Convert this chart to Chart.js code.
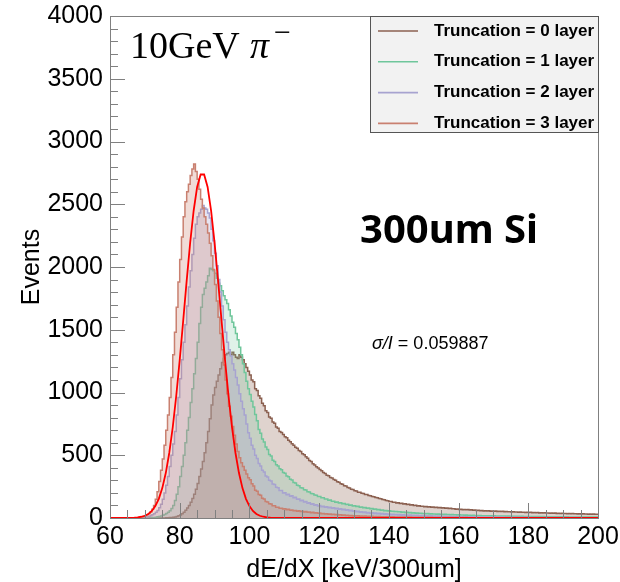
<!DOCTYPE html>
<html>
<head>
<meta charset="utf-8">
<script src="https://cdn.jsdelivr.net/npm/chart.js@4.4.1/dist/chart.umd.min.js"></script>
<style>
  html, body { margin: 0; padding: 0; background: #fff; }
  canvas { display: block; }
</style>
</head>
<body>
<canvas id="chart" width="620" height="582"></canvas>
<script>
// bin lower edges, 0.5 keV wide, 60..199.5
const binLow = [];
for (let i = 0; i < 280; i++) binLow.push(60 + i * 0.5);

// Truncation = 0 layer (one row = 10 keV)
const trunc0 = [
  0,0,0,0,0,0,0,0,0,0,0,0,0,0,0,0,0,0,0,0,
  0,0,0,0,0,0,0,0,0,0,0,0,0,1,2,3,4,6,8,12,
  17,24,34,46,62,80,100,125,155,190,230,275,330,390,450,520,600,690,790,900,
  980,1040,1090,1140,1190,1240,1270,1300,1310,1320,1300,1320,1300,1280,1270,1300,1280,1260,1230,1200,
  1170,1140,1100,1085,1030,1015,975,955,915,895,855,840,805,795,765,755,725,715,690,682,
  665,648,640,620,608,592,580,564,555,538,530,512,504,488,476,458,450,432,423,408,
  398,386,376,362,354,341,336,323,318,306,300,288,284,272,268,256,254,243,240,230,
  228,218,216,206,205,197,196,188,187,179,178,171,170,163,162,155,154,147,146,139,
  138,132,132,126,126,120,121,116,117,112,113,108,109,104,105,100,101,96,98,93,
  94,90,91,87,89,85,87,83,85,81,83,79,81,77,79,75,77,73,74,70,
  72,68,70,66,68,65,67,63,65,61,63,60,62,58,60,56,58,55,57,54,
  56,53,55,52,54,51,53,50,51,49,50,48,49,47,48,46,47,45,46,44,
  45,43,45,42,44,41,43,40,42,39,41,39,40,38,39,37,39,36,38,36,
  37,35,36,34,36,33,35,33,34,32,34,31,33,31,32,30,32,30,31,30
];

// Truncation = 1 layer
const trunc1 = [
  0,0,0,0,0,0,0,0,0,0,0,0,0,0,0,0,0,0,0,0,
  0,0,0,1,2,3,4,6,9,12,16,21,27,35,45,58,75,100,140,190,
  250,330,410,500,600,700,800,920,1030,1150,1270,1400,1550,1680,1780,1830,1880,1930,1990,1980,
  1970,1950,1910,1870,1850,1810,1770,1740,1710,1660,1610,1560,1520,1470,1420,1360,1300,1230,1160,1090,
  1030,985,930,885,825,775,705,675,630,605,565,545,505,495,460,450,425,414,392,384,
  362,356,334,328,308,302,282,278,260,256,242,239,225,223,209,207,195,194,183,182,
  172,172,162,162,152,152,142,143,133,134,125,127,119,121,113,115,107,109,101,103,
  96,98,91,93,86,88,82,84,78,80,74,76,70,72,66,68,62,64,58,60,
  56,57,53,54,51,52,49,50,46,47,44,45,42,43,40,41,38,39,37,38,
  35,36,34,35,32,33,31,32,30,31,29,30,28,29,27,28,26,27,25,26,
  24,25,23,24,22,23,21,22,20,21,19,20,19,19,18,18,17,18,17,17,
  16,17,16,16,15,16,15,15,14,15,14,14,13,14,13,13,12,13,12,12,
  12,12,11,12,11,11,11,11,10,11,10,10,10,10,9,10,9,9,9,9,
  9,9,8,9,8,8,8,8,8,8,7,8,7,7,7,7,7,7,7,7
];

// Truncation = 2 layer
const trunc2 = [
  0,0,0,0,0,0,0,0,0,0,0,0,0,0,0,0,0,0,1,2,
  3,5,8,12,18,25,33,45,60,82,110,150,200,260,330,410,500,590,690,820,
  960,1110,1260,1400,1540,1690,1840,1970,2100,2230,2340,2400,2430,2460,2490,2470,2460,2430,2390,2300,
  2210,2110,2010,1900,1800,1690,1580,1480,1400,1340,1290,1230,1180,1120,1060,990,930,870,820,750,
  680,635,580,550,500,475,435,415,380,367,335,327,300,295,270,267,245,242,220,220,
  200,202,185,189,173,177,161,165,150,152,137,141,127,131,117,122,109,114,102,106,
  95,99,89,94,85,90,81,86,77,82,73,78,69,74,65,70,61,66,57,62,
  53,58,49,54,46,50,43,47,40,44,38,42,36,40,34,38,32,36,30,34,
  28,32,26,30,25,28,23,27,22,26,20,24,19,23,18,22,17,21,16,20,
  15,19,14,18,13,17,13,16,12,15,11,14,11,13,10,13,10,12,9,12,
  9,11,8,11,8,10,8,10,7,9,7,9,7,8,6,8,6,8,6,7,
  6,7,5,7,5,7,5,6,5,6,5,6,4,6,4,5,4,5,4,5,
  4,5,4,4,4,4,3,4,3,4,3,4,3,4,3,3,3,3,3,3,
  3,3,3,3,2,3,2,3,2,3,2,2,2,2,2,2,2,2,2,2
];

// Truncation = 3 layer
const trunc3 = [
  0,0,0,0,0,0,0,0,0,0,0,0,0,0,0,0,2,3,5,8,
  12,18,25,34,48,70,100,150,210,290,380,470,580,700,820,960,1120,1300,1480,1680,
  1880,2060,2240,2400,2520,2600,2660,2730,2780,2820,2760,2700,2620,2540,2470,2400,2340,2270,2190,2090,
  1980,1860,1730,1600,1470,1340,1220,1100,990,890,810,730,660,590,530,480,440,410,380,350,
  320,305,272,255,222,214,188,182,157,152,132,128,113,111,98,97,86,86,78,78,
  72,73,66,69,61,64,57,60,54,57,51,53,48,51,45,47,42,45,40,42,
  37,39,34,36,31,34,29,32,27,30,25,27,23,25,21,23,19,21,18,19,
  16,18,15,17,14,16,13,15,12,14,11,13,10,12,10,11,9,10,8,10,
  8,9,7,9,7,8,6,8,6,7,6,7,5,7,5,6,5,6,4,6,
  4,5,4,5,4,5,4,4,3,4,3,4,3,4,3,4,3,3,2,3,
  2,3,2,3,2,3,2,2,2,2,2,2,2,2,2,2,2,2,2,2,
  2,2,2,2,1,2,1,2,1,1,1,1,1,1,1,1,1,1,1,1,
  1,1,1,1,1,1,1,1,1,1,1,1,1,1,1,1,1,1,1,1,
  1,1,1,1,1,1,1,1,1,1,1,1,1,1,1,1,1,1,1,1
];

// gaussian fit curve, sampled at 60..200
const fitX = [];
for (let x = 60; x <= 200; x++) fitX.push(x);
const fitY = [
  0,0,0,0,0,0,
  1,2,5,10,18,32,56,95,153,238,358,518,723,972,1259,1572,1892,2193,2450,2638,2737,
  2737,2638,2450,2193,1892,1572,1259,972,723,518,358,238,153,95,56,32,18,10,5,2,1,
  0,0,0,0,0,0,0,0,0,0,0,0,0,0,0,0,0,0,0,0,0,0,0,0,0,0,0,0,0,0,0,0,0,0,0,0,0,0,0,0,
  0,0,0,0,0,0,0,0,0,0,0,0,0,0,0,0,0,0,0,0,0,0,0,0,0,0,0,0,0,0,0,0,0,0,0,0,0,0,0,0,
  0,0,0,0,0,0,0,0,0,0,0,0,0
];

const legendLabels = ['Truncation = 0 layer', 'Truncation = 1 layer', 'Truncation = 2 layer', 'Truncation = 3 layer'];
const lineColors = ['#8b6050', '#6fc69b', '#a7a3d0', '#c98070'];
const fillColors = ['rgba(139,96,80,0.28)', 'rgba(111,198,155,0.22)', 'rgba(167,163,208,0.28)', 'rgba(201,128,112,0.28)'];

const histPoints = (vals) => {
  const pts = binLow.map((x, i) => ({ x: x, y: vals[i] }));
  pts.push({ x: 200, y: vals[vals.length - 1] });
  return pts;
};

const hists = [trunc0, trunc1, trunc2, trunc3];

// ticks inside the frame, ROOT style
const frameTicks = {
  id: 'frameTicks',
  afterDatasetsDraw(chart) {
    const { ctx, chartArea: a, scales } = chart;
    ctx.save();
    ctx.strokeStyle = '#808080';
    ctx.lineWidth = 1;
    for (let v = 0; v <= 4000; v += 100) {
      const y = Math.round(scales.y.getPixelForValue(v)) + 0.5;
      const len = (v % 500 === 0) ? 15 : 8;
      ctx.beginPath();
      ctx.moveTo(a.left, y);
      ctx.lineTo(a.left + len, y);
      ctx.stroke();
    }
    for (let v = 60; v <= 200; v += 5) {
      const x = Math.round(scales.x.getPixelForValue(v)) + 0.5;
      const len = (v % 20 === 0) ? 15 : 8;
      ctx.beginPath();
      ctx.moveTo(x, a.bottom);
      ctx.lineTo(x, a.bottom - len);
      ctx.stroke();
    }
    ctx.strokeRect(a.left + 0.5, a.top + 0.5, a.right - a.left, a.bottom - a.top);
    ctx.restore();
  },
  afterDraw(chart) {
    const { ctx, chartArea: a } = chart;
    ctx.save();

    // legend box
    const bx = 370, by = a.top, bw = a.right - 370, bh = 116;
    ctx.fillStyle = '#f2f2f2';
    ctx.fillRect(bx, by, bw, bh);
    ctx.strokeStyle = '#555';
    ctx.lineWidth = 1;
    ctx.strokeRect(bx + 0.5, by + 0.5, bw, bh);
    ctx.font = 'bold 17px "Liberation Sans", Arial, sans-serif';
    ctx.textBaseline = 'middle';
    ctx.textAlign = 'left';
    legendLabels.forEach((lab, i) => {
      const y = 31 + i * 30.8;
      ctx.strokeStyle = lineColors[i];
      ctx.lineWidth = 1.6;
      ctx.beginPath();
      ctx.moveTo(378, y);
      ctx.lineTo(418, y);
      ctx.stroke();
      ctx.fillStyle = '#000';
      ctx.fillText(lab, 434, y);
    });

    // beam label
    ctx.fillStyle = '#000';
    ctx.textBaseline = 'alphabetic';
    ctx.font = '38px "Liberation Serif", "DejaVu Serif", serif';
    ctx.fillText('10GeV', 130, 58);
    ctx.font = 'italic 38px "Liberation Serif", "DejaVu Serif", serif';
    ctx.fillText('\u03c0', 250, 58);
    ctx.font = '30px "Liberation Serif", "DejaVu Serif", serif';
    ctx.fillText('\u2212', 274, 42);

    // detector label
    ctx.font = 'bold 40px "Noto Sans", "Open Sans", sans-serif';
    ctx.fillText('300um Si', 360, 243);

    // resolution
    ctx.font = 'italic 18px "Liberation Sans", Arial, sans-serif';
    ctx.fillText('\u03c3/I', 372, 349);
    const w = ctx.measureText('\u03c3/I').width;
    ctx.font = '18px "Liberation Sans", Arial, sans-serif';
    ctx.fillText(' = 0.059887', 372 + w, 349);

    ctx.restore();
  }
};

const ctx = document.getElementById('chart').getContext('2d');
const datasets = hists.map((vals, i) => ({
  label: legendLabels[i],
  data: histPoints(vals),
  stepped: 'after',
  borderColor: lineColors[i],
  backgroundColor: fillColors[i],
  borderWidth: 1.5,
  pointRadius: 0,
  fill: 'origin',
  order: 4 - i
}));
datasets.push({
  label: 'fit',
  data: fitX.map((x, i) => ({ x: x, y: fitY[i] })),
  borderColor: '#ff0000',
  borderWidth: 1.8,
  pointRadius: 0,
  fill: false,
  tension: 0,
  order: 0
});

const chart = new Chart(ctx, {
  type: 'line',
  data: { datasets: datasets },
  options: {
    responsive: false,
    animation: false,
    devicePixelRatio: 1,
    layout: { padding: { top: 16, right: 22, left: 0, bottom: 0 } },
    plugins: {
      legend: { display: false },
      tooltip: { enabled: false }
    },
    scales: {
      x: {
        type: 'linear',
        min: 60,
        max: 200,
        grid: { display: false, drawTicks: false },
        border: { display: true, color: '#808080' },
        ticks: {
          stepSize: 20,
          padding: 4,
          color: '#000',
          callback: (v) => String(v),
          font: { family: '"Liberation Sans", Arial, sans-serif', size: 25 }
        },
        title: {
          display: true,
          text: 'dE/dX [keV/300um]',
          color: '#000',
          padding: { top: 0, bottom: -3 },
          font: { family: '"Liberation Sans", Arial, sans-serif', size: 25 }
        },
        afterFit: (s) => { s.height = 64; s.paddingLeft = 0; s.paddingRight = 0; }
      },
      y: {
        min: 0,
        max: 4000,
        grid: { display: false, drawTicks: false },
        border: { display: true, color: '#808080' },
        ticks: {
          stepSize: 500,
          padding: 7,
          color: '#000',
          callback: (v) => String(v),
          font: { family: '"Liberation Sans", Arial, sans-serif', size: 25 }
        },
        title: {
          display: true,
          text: 'Events',
          color: '#000',
          padding: { top: 17, bottom: 0 },
          font: { family: '"Liberation Sans", Arial, sans-serif', size: 25 }
        },
        afterFit: (s) => { s.width = 110; s.paddingTop = 0; s.paddingBottom = 0; }
      }
    }
  },
  plugins: [frameTicks]
});
</script>
</body>
</html>
